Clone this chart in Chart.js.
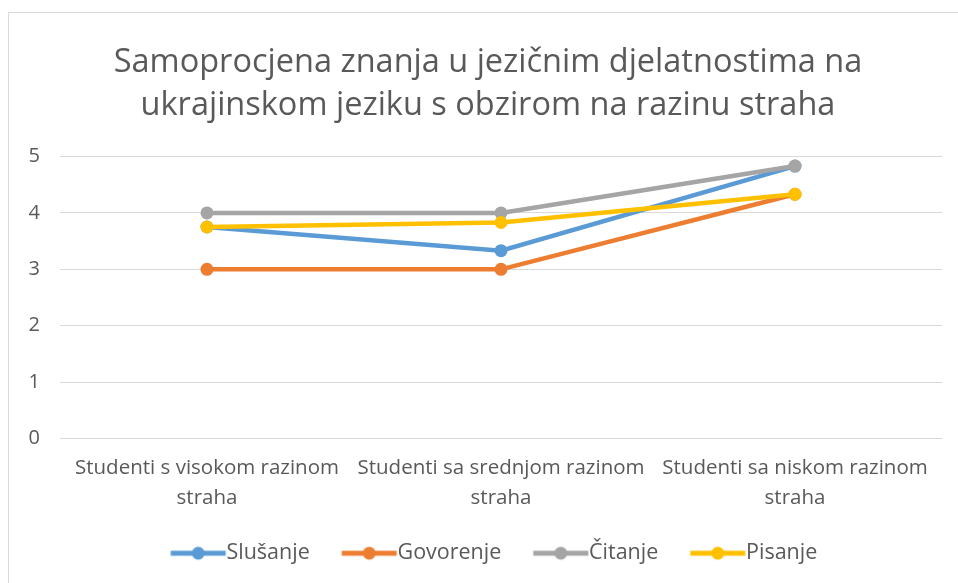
<!DOCTYPE html>
<html>
<head>
<meta charset="utf-8">
<script src="https://cdn.jsdelivr.net/npm/chart.js@4.4.1/dist/chart.umd.min.js"></script>
<style>
  html, body { margin: 0; padding: 0; background: #fff; overflow: hidden; }
  #frame { position: absolute; left: 8px; top: 12px; width: 1200px; height: 800px; border: 1px solid #d9d9d9; }
  #wrap { position: absolute; left: 0; top: 0; width: 958px; height: 583px; }
</style>
</head>
<body>
<div id="frame"></div>
<div id="wrap"><canvas id="chart" width="958" height="583"></canvas></div>
<script>
const categories = [
  ["Studenti s visokom razinom", "straha"],
  ["Studenti sa srednjom razinom", "straha"],
  ["Studenti sa niskom razinom", "straha"]
];
const seriesNames = ["Slušanje", "Govorenje", "Čitanje", "Pisanje"];
const slusanje = [3.75, 3.33, 4.83];
const govorenje = [3, 3, 4.33];
const citanje = [4, 4, 4.83];
const pisanje = [3.75, 3.83, 4.33];
const colors = ["#5B9BD5", "#ED7D31", "#A5A5A5", "#FFC000"];
const titleLines = [
  "Samoprocjena znanja u jezičnim djelatnostima na",
  "ukrajinskom jeziku s obzirom na razinu straha"
];

const FONT = "'Open Sans', sans-serif";
const TEXT = "#595959";
const LEGEND_BOX = 55;

// line+dot legend marker; the canvas is wider than the box so the
// marker can sit right against the label text
function legendMarker(color) {
  const c = document.createElement("canvas");
  c.width = 130;
  c.height = 16;
  const g = c.getContext("2d");
  const x0 = 65 - LEGEND_BOX / 2 + 10;
  const x1 = x0 + 55;
  g.strokeStyle = color;
  g.lineWidth = 5;
  g.beginPath();
  g.moveTo(x0, 8);
  g.lineTo(x1, 8);
  g.stroke();
  g.fillStyle = color;
  g.beginPath();
  g.arc((x0 + x1) / 2, 8, 6.5, 0, Math.PI * 2);
  g.fill();
  return c;
}

// title and legend sit a bit right of centre in the original
const nudgeBoxes = {
  id: "nudgeBoxes",
  afterLayout(chart) {
    chart.legend.left += 8;
    chart.legend.right += 8;
    chart.titleBlock.left += 7;
    chart.titleBlock.right += 7;
  }
};

const values = [slusanje, govorenje, citanje, pisanje];
const drawOrder = [2, 3, 1, 0];
const datasets = seriesNames.map((name, i) => ({
  label: name,
  data: values[i],
  borderColor: colors[i],
  backgroundColor: colors[i],
  borderWidth: 4.5,
  pointRadius: 6.5,
  pointBorderWidth: 0,
  pointHoverRadius: 6.5,
  tension: 0,
  order: drawOrder[i]
}));

new Chart(document.getElementById("chart"), {
  type: "line",
  data: { labels: categories, datasets },
  plugins: [nudgeBoxes],
  options: {
    responsive: false,
    animation: false,
    layout: { padding: { left: 20, right: 16, top: 33, bottom: 9 } },
    plugins: {
      title: {
        display: true,
        text: titleLines,
        color: TEXT,
        font: { family: FONT, size: 32.5, weight: "normal", lineHeight: 1.33 },
        padding: { top: 8, bottom: 29 }
      },
      legend: {
        position: "bottom",
        labels: {
          color: TEXT,
          font: { family: FONT, size: 21.5 },
          usePointStyle: true,
          pointStyleWidth: LEGEND_BOX,
          padding: 22,
          generateLabels: (chart) => chart.data.datasets.map((ds, i) => ({
            text: ds.label,
            fontColor: TEXT,
            pointStyle: legendMarker(colors[i]),
            datasetIndex: i,
            lineWidth: 0,
            hidden: false
          }))
        }
      },
      tooltip: { enabled: false }
    },
    scales: {
      x: {
        offset: true,
        grid: { display: false },
        border: { display: false },
        ticks: {
          color: TEXT,
          font: { family: FONT, size: 20.5, lineHeight: 1.46 },
          maxRotation: 0,
          autoSkip: false,
          padding: 7
        }
      },
      y: {
        min: 0,
        max: 5,
        afterFit: (scale) => { scale.width = 40; },
        grid: { color: "#d9d9d9", lineWidth: 1, drawTicks: false },
        border: { display: false },
        ticks: {
          stepSize: 1,
          color: TEXT,
          font: { family: FONT, size: 20 },
          padding: 20
        }
      }
    }
  }
});
</script>
</body>
</html>
